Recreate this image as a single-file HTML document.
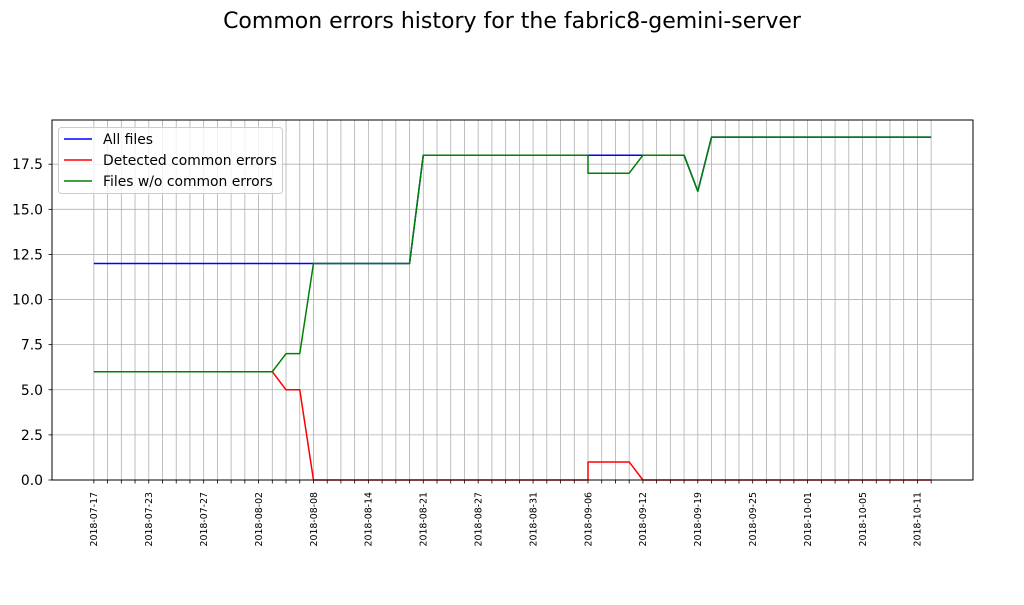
<!DOCTYPE html>
<html><head><meta charset="utf-8"><style>
body{margin:0;background:#fff;width:1024px;height:600px;overflow:hidden}
svg{font-family:"DejaVu Sans","Liberation Sans",sans-serif}
</style></head><body>
<svg id="chart" width="1024" height="600">
<text x="512" y="28" text-anchor="middle" font-size="22">Common errors history for the fabric8-gemini-server</text>
<g id="grid"></g><g id="axes"></g><g id="series"></g>
<rect x="52" y="120" width="921" height="360" fill="none" stroke="#000" stroke-width="1"/>
<g>
<rect x="58.5" y="127.5" width="224" height="66" rx="3" fill="#fff" fill-opacity="0.8" stroke="#ccc"/>
<line x1="64" y1="139" x2="92" y2="139" stroke="blue" stroke-width="1.5"/>
<text x="103" y="144" font-size="13.9">All files</text>
<line x1="64" y1="160" x2="92" y2="160" stroke="red" stroke-width="1.5"/>
<text x="103" y="165" font-size="13.9">Detected common errors</text>
<line x1="64" y1="181" x2="92" y2="181" stroke="green" stroke-width="1.5"/>
<text x="103" y="186" font-size="13.9">Files w/o common errors</text>
</g>
</svg>
<script>
const tickLabels = ["2018-07-17","2018-07-23","2018-07-27","2018-08-02","2018-08-08","2018-08-14","2018-08-21","2018-08-27","2018-08-31","2018-09-06","2018-09-12","2018-09-19","2018-09-25","2018-10-01","2018-10-05","2018-10-11"];
const categoryCount = 62;
const xIndex = [0,1,2,3,4,5,6,7,8,9,10,11,12,13,14,15,16,17,18,19,20,21,22,23,24,25,26,27,28,29,30,31,32,33,34,35,36,36,37,38,39,40,41,42,43,44,45,46,47,48,49,50,51,52,53,54,55,56,57,58,59,60,61];
const allFiles = [12,12,12,12,12,12,12,12,12,12,12,12,12,12,12,12,12,12,12,12,12,12,12,12,18,18,18,18,18,18,18,18,18,18,18,18,18,18,18,18,18,18,18,18,18,16,19,19,19,19,19,19,19,19,19,19,19,19,19,19,19,19,19];
const detected = [6,6,6,6,6,6,6,6,6,6,6,6,6,6,5,5,0,0,0,0,0,0,0,0,0,0,0,0,0,0,0,0,0,0,0,0,0,1,1,1,1,0,0,0,0,0,0,0,0,0,0,0,0,0,0,0,0,0,0,0,0,0,0];
const noErrors = [6,6,6,6,6,6,6,6,6,6,6,6,6,6,7,7,12,12,12,12,12,12,12,12,18,18,18,18,18,18,18,18,18,18,18,18,18,17,17,17,17,18,18,18,18,16,19,19,19,19,19,19,19,19,19,19,19,19,19,19,19,19,19];
const yTicks = [0,2.5,5,7.5,10,12.5,15,17.5];

const NS="http://www.w3.org/2000/svg";
const L=52,R=973,T=120,B=480;
const xmin=-3.05,xmax=61+3.05,ymin=0,ymax=19.95;
const X=v=>L+(v-xmin)/(xmax-xmin)*(R-L);
const Y=v=>B-(v-ymin)/(ymax-ymin)*(B-T);
function mk(tag,attrs,parent){const e=document.createElementNS(NS,tag);for(const k in attrs)e.setAttribute(k,attrs[k]);parent.appendChild(e);return e;}
const grid=document.getElementById('grid'),axes=document.getElementById('axes'),ser=document.getElementById('series');
for(let i=0;i<categoryCount;i++){
  const x=X(i);
  const g=mk('line',{x1:x,x2:x,y1:T,y2:B,stroke:'#b0b0b0','stroke-width':0.8},grid);
  
  
  const t=mk('line',{x1:x,x2:x,y1:B,y2:B+3.5,stroke:'#000','stroke-width':0.8},axes);
  
  
  if(i%4===0&&tickLabels[i/4]){
    const tx=mk('text',{transform:`translate(${x+3.3},${B+12}) rotate(-90)`,'text-anchor':'end','font-size':9.4},axes);
    tx.textContent=tickLabels[i/4];
    
    
  }
}
yTicks.forEach(v=>{
  const y=Y(v);
  const g=mk('line',{x1:L,x2:R,y1:y,y2:y,stroke:'#b0b0b0','stroke-width':0.8},grid);
  
  
  const t=mk('line',{x1:L-3.5,x2:L,y1:y,y2:y,stroke:'#000','stroke-width':0.8},axes);
  
  
  const tx=mk('text',{x:L-9,y:y+5,'text-anchor':'end','font-size':13.9},axes);
  tx.textContent=v.toFixed(1);
  
  
});
[[allFiles,'blue','all-files-line'],[detected,'red','detected-errors-line'],[noErrors,'green','files-without-errors-line']].forEach(([vals,c,n])=>{
  const pts=vals.map((v,i)=>X(xIndex[i]).toFixed(2)+','+Y(v).toFixed(2)).join(' ');
  const p=mk('polyline',{points:pts,fill:'none',stroke:c,'stroke-width':1.5,'stroke-linejoin':'round'},ser);
  
  
});
</script>
</body></html>
